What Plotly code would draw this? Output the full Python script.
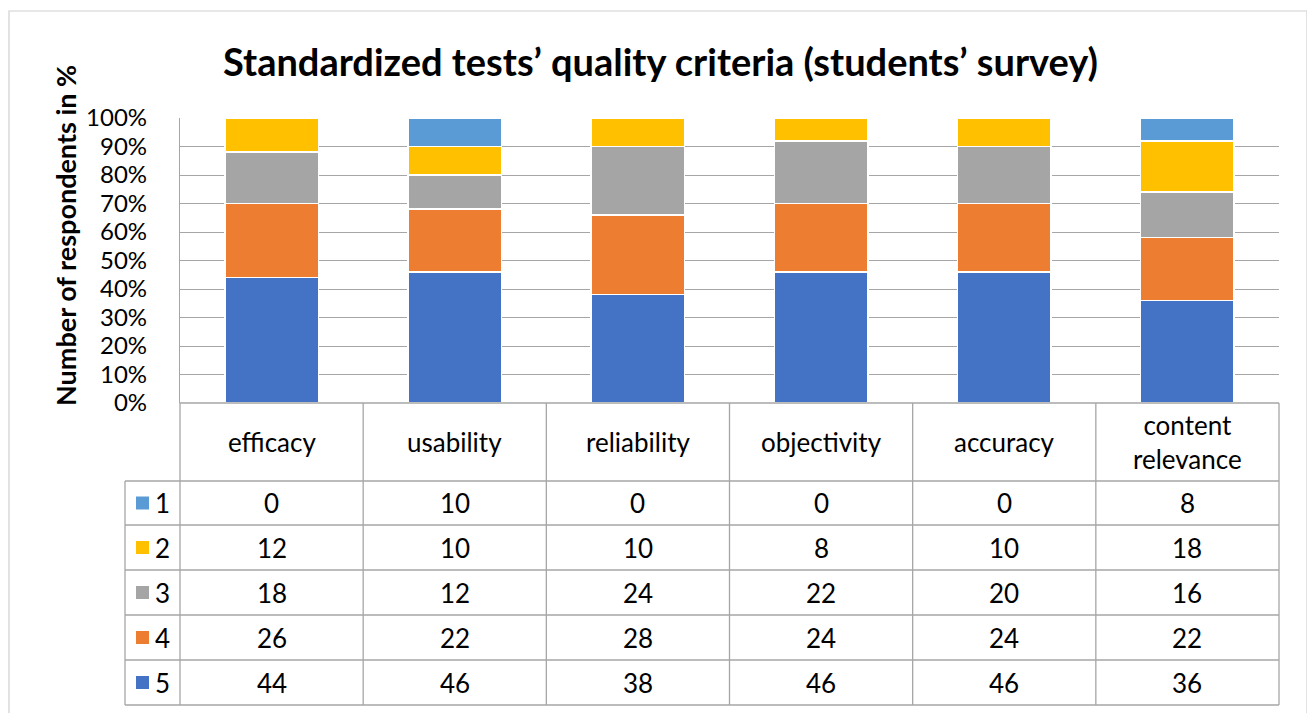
import plotly.graph_objects as go

categories = ["efficacy", "usability", "reliability", "objectivity", "accuracy", "content<br>relevance"]
series_names = ["1", "2", "3", "4", "5"]
values = {
    "1": [0, 10, 0, 0, 0, 8],
    "2": [12, 10, 10, 8, 10, 18],
    "3": [18, 12, 24, 22, 20, 16],
    "4": [26, 22, 28, 24, 24, 22],
    "5": [44, 46, 38, 46, 46, 36],
}
colors = {"1": "#5B9BD5", "2": "#FFC000", "3": "#A5A5A5", "4": "#ED7D31", "5": "#4472C4"}
y_ticks = list(range(0, 101, 10))
y_ticktext = [f"{v}%" for v in y_ticks]
title_text = "Standardized tests’ quality criteria (students’ survey)"
ytitle = "Number of respondents in %"

OFF = 8  # page body margin
W, H = 1315 - OFF, 713 - OFF
L, R, T, B = 180, 1279, 118, 403  # plot area in page px
FONT = "Lato"
GRID = "#A6A6A6"
LINE = "#A6A6A6"
FS = 26

def px(x):
    return (x - L) / (R - L)

def py(y):
    return (B - y) / (B - T)

fig = go.Figure()
for s in ["5", "4", "3", "2", "1"]:
    fig.add_trace(go.Bar(
        x=categories, y=values[s], name=s,
        marker=dict(color=colors[s], line=dict(color="white", width=1.5)),
        showlegend=False,
    ))

shapes = []
annotations = []

# outer chart border
shapes.append(dict(type="rect", xref="paper", yref="paper",
                   x0=px(9), x1=px(1307), y0=py(740), y1=py(11),
                   line=dict(color="#D0D0D0", width=1.2), fillcolor="rgba(0,0,0,0)", layer="below"))

# table geometry
header_bottom = 481
row_edges = [481, 525, 570, 615, 660, 705]
n = len(categories)
colw = (R - L) / n

shapes.append(dict(type="line", xref="paper", yref="paper", x0=px(L), x1=px(R), y0=py(B), y1=py(B),
                   line=dict(color=LINE, width=1.3)))
for ye in row_edges:
    shapes.append(dict(type="line", xref="paper", yref="paper", x0=px(125), x1=px(R), y0=py(ye), y1=py(ye),
                       line=dict(color=LINE, width=1.3)))
for i in range(n + 1):
    xe = L + i * colw
    shapes.append(dict(type="line", xref="paper", yref="paper", x0=px(xe), x1=px(xe), y0=py(B), y1=py(row_edges[-1]),
                       line=dict(color=LINE, width=1.3)))
shapes.append(dict(type="line", xref="paper", yref="paper", x0=px(125), x1=px(125), y0=py(row_edges[0]), y1=py(row_edges[-1]),
                   line=dict(color=LINE, width=1.3)))

# header labels
for i, c in enumerate(categories):
    annotations.append(dict(x=c, xref="x", y=py((B + header_bottom) / 2), yref="paper",
                            text=c, showarrow=False, font=dict(family=FONT, size=FS, color="#000"),
                            xanchor="center", yanchor="middle", align="center"))

# rows
for r, s in enumerate(series_names):
    yc = (row_edges[r] + row_edges[r + 1]) / 2
    shapes.append(dict(type="rect", xref="paper", yref="paper",
                       x0=px(136), x1=px(149), y0=py(yc - 6.5), y1=py(yc + 6.5),
                       fillcolor=colors[s], line=dict(width=0)))
    annotations.append(dict(x=px(153), xref="paper", y=py(yc), yref="paper", text=s, showarrow=False,
                            xanchor="left", yanchor="middle", font=dict(family=FONT, size=FS, color="#000")))
    for i, c in enumerate(categories):
        annotations.append(dict(x=c, xref="x", y=py(yc), yref="paper", text=str(values[s][i]),
                                showarrow=False, xanchor="center", yanchor="middle",
                                font=dict(family=FONT, size=FS, color="#000")))

# y axis title
annotations.append(dict(x=px(65), xref="paper", y=py(236), yref="paper", text="<b>" + ytitle + "</b>",
                        textangle=-90, showarrow=False, xanchor="center", yanchor="middle",
                        font=dict(family=FONT, size=27, color="#000")))
# title
annotations.append(dict(x=px(660), xref="paper", y=py(61), yref="paper", text="<b>" + title_text + "</b>",
                        showarrow=False, xanchor="center", yanchor="middle",
                        font=dict(family=FONT, size=38, color="#000")))

fig.update_layout(
    width=W, height=H,
    margin=dict(l=L - OFF, r=W - (R - OFF), t=T - OFF, b=H - (B - OFF)),
    barmode="stack", bargap=0.49,
    plot_bgcolor="white", paper_bgcolor="white",
    shapes=shapes, annotations=annotations,
    xaxis=dict(showticklabels=False, showgrid=False, zeroline=False, showline=False, ticks=""),
    yaxis=dict(range=[0, 100], tickvals=y_ticks, ticktext=y_ticktext,
               showgrid=True, gridcolor=GRID, gridwidth=1, zeroline=False,
               showline=True, linecolor=LINE, linewidth=1.3,
               tickfont=dict(family=FONT, size=24, color="#000"), ticklabelstandoff=27),
)

fig.write_html("out.html")
